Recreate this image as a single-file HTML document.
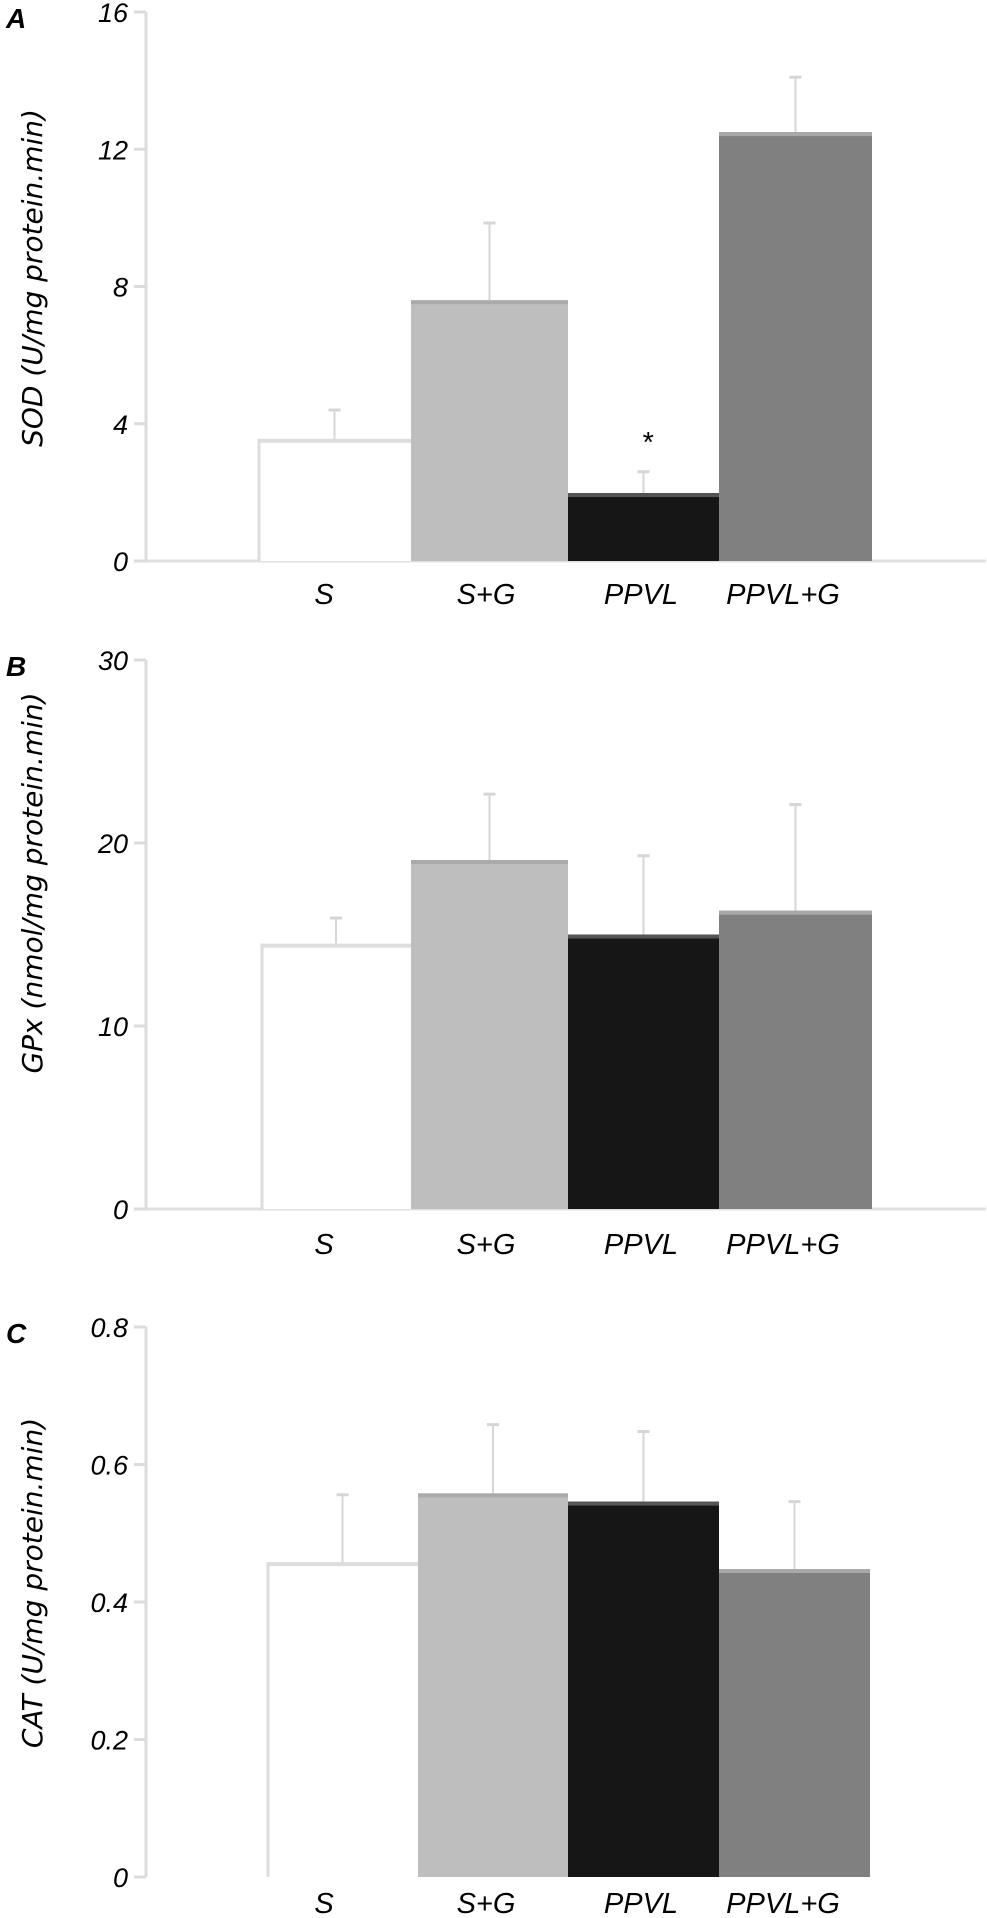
<!DOCTYPE html>
<html><head><meta charset="utf-8"><style>
html,body{margin:0;padding:0;background:#fff;}
svg{display:block;}
.tk{font-family:"Liberation Sans Narrow","Liberation Sans",sans-serif;font-style:italic;font-size:27px;fill:#000;}
.cat{font-family:"Liberation Sans Narrow","Liberation Sans",sans-serif;font-style:italic;font-size:29px;fill:#000;}
.ttl{font-family:"DejaVu Sans","Liberation Sans",sans-serif;font-style:italic;font-size:28px;fill:#000;}
.let{font-family:"Liberation Sans",sans-serif;font-style:italic;font-weight:bold;font-size:28px;fill:#000;}
</style></head><body>
<svg id="chart" width="987" height="1918" viewBox="0 0 987 1918" xmlns="http://www.w3.org/2000/svg"></svg>
<script>
const categories = ["S","S+G","PPVL","PPVL+G"];
const sodValues = [3.56, 7.6, 1.98, 12.5];
const sodErrors = [0.84, 2.25, 0.62, 1.6];
const gpxValues = [14.5, 19.07, 15.0, 16.3];
const gpxErrors = [1.4, 3.6, 4.3, 5.8];
const catValues = [0.458, 0.558, 0.546, 0.448];
const catErrors = [0.098, 0.1, 0.102, 0.098];
const sodTicks = [0, 4, 8, 12, 16];
const gpxTicks = [0, 10, 20, 30];
const catTicks = [0, 0.2, 0.4, 0.6, 0.8];
const catTickLabels = ["0","0.2","0.4","0.6","0.8"];

const NS = "http://www.w3.org/2000/svg";
const svg = document.getElementById('chart');
const fills = ["#ffffff","#bebebe","#161616","#808080"];
const tops = ["#dddddd","#aaaaaa","#555555","#a8a8a8"];
const barEdges = [[258,411,568,719,872],[261,411,568,719,872],[267,418,568,719,870]];

function mk(tag, attrs, parent){
  const e = document.createElementNS(NS, tag);
  for (const k in attrs) e.setAttribute(k, attrs[k]);
  (parent||svg).appendChild(e);
  return e;
}

function panel(cfg){
  const g = mk('g', {});
  
  
  const y = v => cfg.y0 - (v - 0) / cfg.max * (cfg.y0 - cfg.yTop);
  const axisX = 146;
  const ax = mk('line', {x1:axisX, x2:axisX, y1:cfg.yTop, y2:cfg.y0, stroke:'#dcdcdc', 'stroke-width':3}, g);
  
  
  if (cfg.baseline){
    const bl = mk('line', {x1:axisX, x2:986, y1:cfg.y0, y2:cfg.y0, stroke:'#e0e0e0', 'stroke-width':3}, g);
    
    
  }
  cfg.ticks.forEach((t,i) => {
    const ty = y(t);
    mk('line', {x1:axisX-12, x2:axisX, y1:ty, y2:ty, stroke:'#dcdcdc', 'stroke-width':3}, g);
    const tx = mk('text', {x:128, y:ty+10, 'text-anchor':'end', class:'tk'}, g);
    tx.textContent = cfg.tickLabels ? cfg.tickLabels[i] : String(t);
    
    
  });
  const ed = cfg.edges;
  categories.forEach((c,i) => {
    const x1 = ed[i], x2 = ed[i+1], v = cfg.values[i], e = cfg.errors[i];
    const cx = (x1 + x2) / 2;
    const ey = y(v + e);
    const err = mk('line', {x1:cx, x2:cx, y1:ey, y2:y(v), stroke:'#d6d6d6', 'stroke-width':2}, g);
    
    
    mk('line', {x1:cx-6, x2:cx+6, y1:ey, y2:ey, stroke:'#d6d6d6', 'stroke-width':3}, g);
    const r = mk('rect', {x:x1, y:y(v), width:x2-x1, height:cfg.y0-y(v), fill:fills[i]}, g);
    
    
    mk('rect', {x:x1, y:y(v), width:x2-x1, height:4, fill:tops[i]}, g);
    if (i === 0){
      mk('line', {x1:x1+1, x2:x1+1, y1:y(v), y2:cfg.y0, stroke:'#dddddd', 'stroke-width':3}, g);
    }
    const lab = mk('text', {x:[324,486,641,783][i], y:cfg.labelY, 'text-anchor':'middle', class:'cat'}, g);
    lab.textContent = c;
    
    
  });
  const tt = mk('text', {x:0, y:0, 'text-anchor':'middle', class:'ttl', transform:`translate(42 ${cfg.titleY}) rotate(-90)`}, g);
  tt.textContent = cfg.title;
  
  
  const lt = mk('text', {x:6, y:cfg.yTop+16, class:'let'}, g);
  lt.textContent = cfg.letter;
  
  
  return {g, y};
}

const pA = panel({name:'sod', letter:'A', yTop:12, y0:561, max:16, ticks:sodTicks, values:sodValues, errors:sodErrors, edges:barEdges[0], labelY:604, title:'SOD (U/mg protein.min)', titleY:278, baseline:true});
const star = mk('text', {x:647, y:452, 'text-anchor':'middle', class:'cat'}, pA.g);
star.textContent = '*';


panel({name:'gpx', letter:'B', yTop:660, y0:1209, max:30, ticks:gpxTicks, values:gpxValues, errors:gpxErrors, edges:barEdges[1], labelY:1254, title:'GPx (nmol/mg protein.min)', titleY:883, baseline:true});
panel({name:'cat', letter:'C', yTop:1327, y0:1877, max:0.8, ticks:catTicks, tickLabels:catTickLabels, values:catValues, errors:catErrors, edges:barEdges[2], labelY:1913, title:'CAT (U/mg protein.min)', titleY:1583, baseline:false});
</script>
</body></html>
